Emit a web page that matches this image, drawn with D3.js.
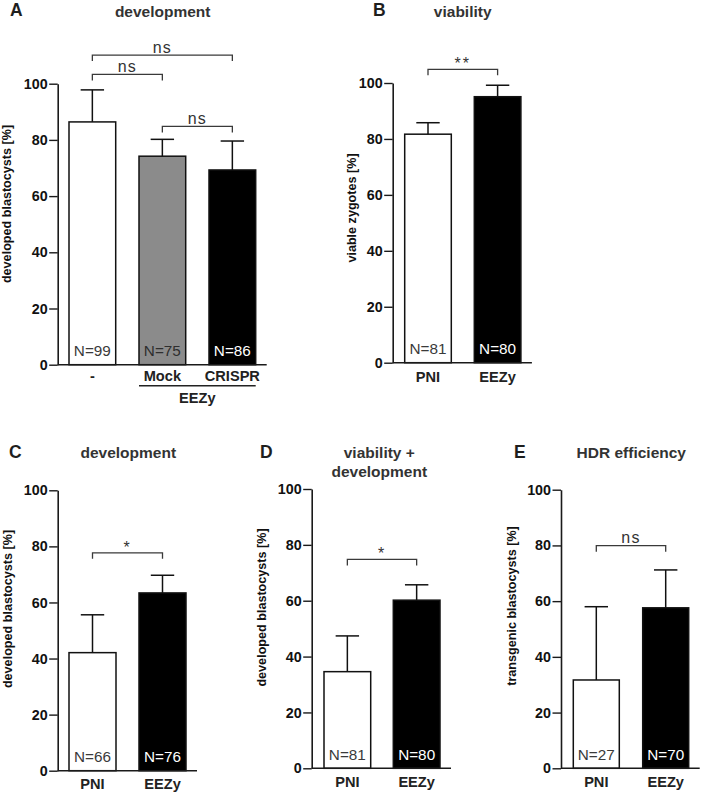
<!DOCTYPE html>
<html>
<head>
<meta charset="utf-8">
<script src="https://cdn.jsdelivr.net/npm/d3@7"></script>
<style>
  body { margin: 0; background: #fff; }
  svg { display: block; font-family: "Liberation Sans", Arial, sans-serif; }
</style>
</head>
<body>
<div id="chart"></div>
<script>
// values (percent, mean and upper SD)
var yTicks = [0, 20, 40, 60, 80, 100];

var groupsA = ["-", "Mock", "CRISPR"];
var meanA = [86.4, 74.2, 69.3];
var sdA = [11.4, 6.0, 10.3];
var countA = [99, 75, 86];
var sigA = [["ns", 0, 2], ["ns", 0, 1], ["ns", 1, 2]];

var groupsB = ["PNI", "EEZy"];
var meanB = [81.7, 95.1];
var sdB = [4.1, 4.1];
var countB = [81, 80];
var sigB = [["**", 0, 1]];

var groupsC = ["PNI", "EEZy"];
var meanC = [42.1, 63.4];
var sdC = [13.5, 6.3];
var countC = [66, 76];
var sigC = [["*", 0, 1]];

var groupsD = ["PNI", "EEZy"];
var meanD = [34.6, 60.2];
var sdD = [12.8, 5.5];
var countD = [81, 80];
var sigD = [["*", 0, 1]];

var groupsE = ["PNI", "EEZy"];
var meanE = [31.7, 57.6];
var sdE = [26.3, 13.6];
var countE = [27, 70];
var sigE = [["ns", 0, 1]];

var W = 701, H = 794;
var svg = d3.select("#chart").append("svg")
    .attr("width", W)
    .attr("height", H);

var panels = [
    { letter: "A", lx: 10, ly: 16.3, title: ["development"], tx: 162.7, ty: 16.5,
      ylabel: "developed blastocysts [%]", ylx: 10.8, yly: 204,
      ax: 57.7, y0: 364.7, y100: 83.7, bar0: 69, step: 70, bw: 46.7,
      groups: groupsA, mean: meanA, sd: sdA, n: countA, sig: sigA, levels: [110.2, 103.3, 84.8],
      fills: ["#fff", "#8b8b8b", "#000"], nfill: ["#3a3a3a", "#2e2e2e", "#fff"], labOff: 16 },
    { letter: "B", lx: 373, ly: 16.3, title: ["viability"], tx: 462.7, ty: 16.5,
      ylabel: "viable zygotes [%]", ylx: 355.8, yly: 208,
      ax: 392.7, y0: 362.7, y100: 83, bar0: 404.7, step: 69.6, bw: 46.6,
      groups: groupsB, mean: meanB, sd: sdB, n: countB, sig: sigB, levels: [104.9],
      fills: ["#fff", "#000"], nfill: ["#3a3a3a", "#fff"], labOff: 19 },
    { letter: "C", lx: 9, ly: 457.5, title: ["development"], tx: 128.3, ty: 458,
      ylabel: "developed blastocysts [%]", ylx: 12, yly: 609,
      ax: 57.7, y0: 770.7, y100: 490.3, bar0: 69, step: 70, bw: 47,
      groups: groupsC, mean: meanC, sd: sdC, n: countC, sig: sigC, levels: [77.7],
      fills: ["#fff", "#000"], nfill: ["#3a3a3a", "#fff"], labOff: 18.6 },
    { letter: "D", lx: 260, ly: 457.5, title: ["viability +", "development"], tx: 379.3, ty: 458,
      ylabel: "developed blastocysts [%]", ylx: 265.8, yly: 607.5,
      ax: 311.7, y0: 768.3, y100: 489, bar0: 324, step: 69.3, bw: 46.7,
      groups: groupsD, mean: meanD, sd: sdD, n: countD, sig: sigD, levels: [74.8],
      fills: ["#fff", "#000"], nfill: ["#3a3a3a", "#fff"], labOff: 18.6 },
    { letter: "E", lx: 514, ly: 457.5, title: ["HDR efficiency"], tx: 631.3, ty: 458,
      ylabel: "transgenic blastocysts [%]", ylx: 515.8, yly: 606,
      ax: 561, y0: 768.3, y100: 489.7, bar0: 573.3, step: 69.4, bw: 46,
      groups: groupsE, mean: meanE, sd: sdE, n: countE, sig: sigE, levels: [79.9],
      fills: ["#fff", "#000"], nfill: ["#3a3a3a", "#fff"], labOff: 18.6 }
];

function bandScale(p) {
    var pi = 1 - p.bw / p.step;
    var r0 = p.bar0 - p.step * pi / 2;
    return d3.scaleBand()
        .domain(p.groups)
        .range([r0, r0 + p.step * p.groups.length])
        .paddingInner(pi)
        .paddingOuter(pi / 2);
}

function drawPanel(p) {
    var g = svg.append("g").attr("class", "panel");

    var y = d3.scaleLinear().domain([0, 100]).range([p.y0, p.y100]);
    var x = bandScale(p);

    // panel letter and title
    g.append("text")
        .attr("x", p.lx).attr("y", p.ly)
        .attr("font-weight", "bold")
        .attr("font-size", 17.5)
        .attr("fill", "#1e1e1e")
        .text(p.letter);

    p.title.forEach(function(t, i) {
        g.append("text")
            .attr("x", p.tx).attr("y", p.ty + i * 19.3)
            .attr("text-anchor", "middle")
            .attr("font-weight", "bold")
            .attr("font-size", 15.5)
            .attr("fill", "#333")
            .text(t);
    });

    // y axis
    var axis = d3.axisLeft(y).tickValues(yTicks).tickSize(8.5).tickSizeOuter(0).tickPadding(1.5);
    var ag = g.append("g")
        .attr("transform", "translate(" + p.ax + ",0)")
        .call(axis);
    ag.select(".domain").attr("stroke", "#1a1a1a").attr("stroke-width", 1.6);
    ag.selectAll(".tick line").attr("stroke", "#1a1a1a").attr("stroke-width", 1.4);
    ag.selectAll(".tick text")
        .attr("font-family", "'Liberation Sans', Arial, sans-serif")
        .attr("font-weight", "bold")
        .attr("font-size", 14.3)
        .attr("fill", "#111");

    g.append("text")
        .attr("transform", "translate(" + p.ylx + "," + p.yly + ") rotate(-90)")
        .attr("text-anchor", "middle")
        .attr("font-weight", "bold")
        .attr("font-size", 12.6)
        .attr("fill", "#111")
        .text(p.ylabel);

    // bars
    var idx = d3.range(p.groups.length);
    g.selectAll("rect.bar").data(idx).enter().append("rect")
        .attr("class", "bar")
        .attr("x", function(i) { return x(p.groups[i]); })
        .attr("y", function(i) { return y(p.mean[i]); })
        .attr("width", x.bandwidth())
        .attr("height", function(i) { return y(0) - y(p.mean[i]); })
        .attr("fill", function(i) { return p.fills[i]; })
        .attr("stroke", "#111")
        .attr("stroke-width", 1.5);

    // error bars (upper only)
    idx.forEach(function(i) {
        var cx = x(p.groups[i]) + x.bandwidth() / 2;
        var top = y(p.mean[i] + p.sd[i]);
        g.append("line")
            .attr("x1", cx).attr("x2", cx)
            .attr("y1", y(p.mean[i])).attr("y2", top)
            .attr("stroke", "#111").attr("stroke-width", 1.5);
        g.append("line")
            .attr("x1", cx - 11.7).attr("x2", cx + 11.7)
            .attr("y1", top).attr("y2", top)
            .attr("stroke", "#111").attr("stroke-width", 1.5);
    });

    // baseline
    var last = p.groups[p.groups.length - 1];
    g.append("line")
        .attr("x1", p.ax).attr("x2", x(last) + x.bandwidth() + 11)
        .attr("y1", y(0)).attr("y2", y(0))
        .attr("stroke", "#1a1a1a").attr("stroke-width", 1.6);

    // N labels inside bars
    g.selectAll("text.nlab").data(idx).enter().append("text")
        .attr("class", "nlab")
        .attr("x", function(i) { return x(p.groups[i]) + x.bandwidth() / 2; })
        .attr("y", y(0) - 8.3)
        .attr("text-anchor", "middle")
        .attr("font-size", 15.3)
        .attr("fill", function(i) { return p.nfill[i]; })
        .text(function(i) { return "N=" + p.n[i]; });

    // category labels
    g.selectAll("text.cat").data(idx).enter().append("text")
        .attr("class", "cat")
        .attr("x", function(i) { return x(p.groups[i]) + x.bandwidth() / 2; })
        .attr("y", y(0) + p.labOff)
        .attr("text-anchor", "middle")
        .attr("font-weight", "bold")
        .attr("font-size", 14.6)
        .attr("fill", "#222")
        .text(function(i) { return p.groups[i]; });

    // significance brackets
    p.sig.forEach(function(s, k) {
        var x1 = x(p.groups[s[1]]) + x.bandwidth() / 2;
        var x2 = x(p.groups[s[2]]) + x.bandwidth() / 2;
        var yy = y(p.levels[k]);
        g.append("path")
            .attr("d", "M" + x1 + "," + (yy + 6) + "V" + yy + "H" + x2 + "V" + (yy + 6))
            .attr("fill", "none")
            .attr("stroke", "#3a3a3a")
            .attr("stroke-width", 1.3);
        g.append("text")
            .attr("x", (x1 + x2) / 2)
            .attr("y", s[0] == "ns" ? yy - 2.5 : yy)
            .attr("text-anchor", "middle")
            .attr("font-size", 16)
            .attr("letter-spacing", s[0] == "ns" ? 1.2 : 2)
            .attr("fill", "#333")
            .text(s[0]);
    });

    return g;
}

panels.forEach(drawPanel);

// EEZy group line under Mock / CRISPR in panel A
var xA = bandScale(panels[0]);
var gx1 = xA("Mock"), gx2 = xA("CRISPR") + xA.bandwidth();
svg.append("line")
    .attr("x1", gx1).attr("x2", gx2)
    .attr("y1", 385.7).attr("y2", 385.7)
    .attr("stroke", "#222").attr("stroke-width", 1.5);
svg.append("text")
    .attr("x", (gx1 + gx2) / 2)
    .attr("y", 402.7)
    .attr("text-anchor", "middle")
    .attr("font-weight", "bold")
    .attr("font-size", 14.6)
    .attr("fill", "#222")
    .text("EEZy");
</script>
</body>
</html>
